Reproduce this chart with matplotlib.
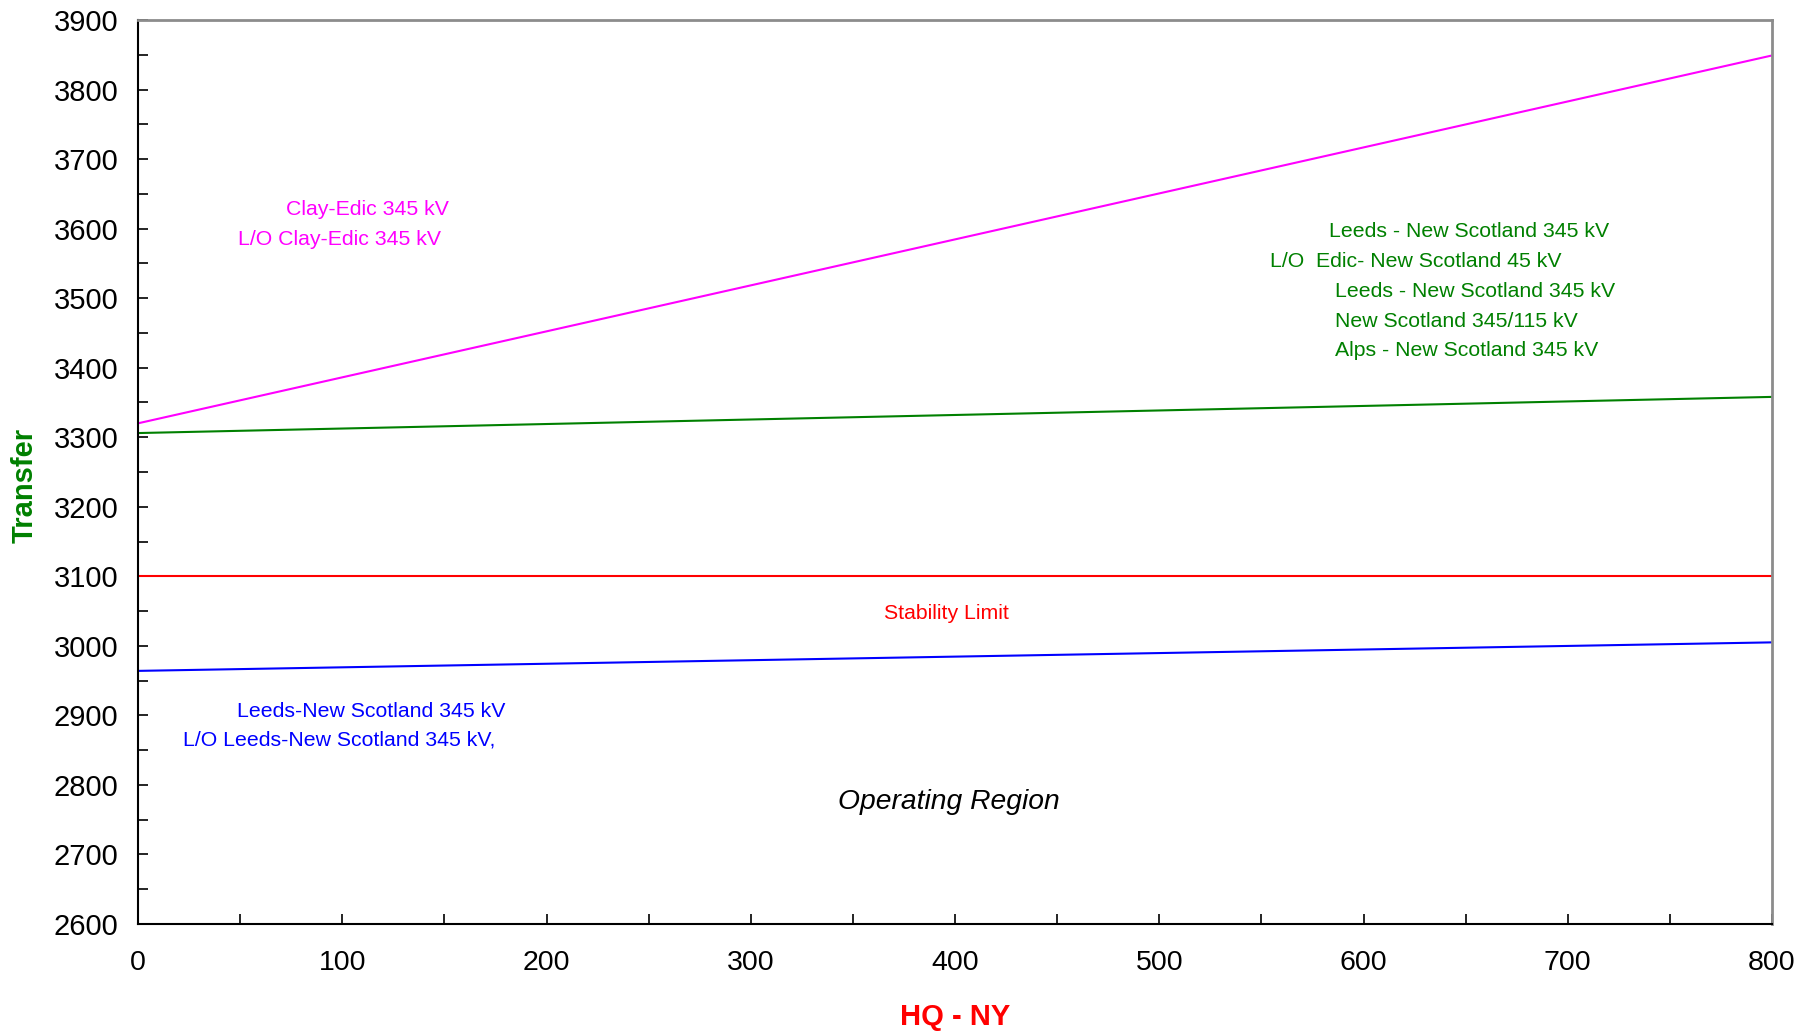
import matplotlib
matplotlib.use("Agg")
import matplotlib.pyplot as plt
from matplotlib.ticker import MultipleLocator

plt.rcParams['font.family'] = ['Liberation Sans', 'DejaVu Sans']

# Transfer limits versus HQ - NY flow (linear, endpoints at 0 and 800 MW)
hq_ny = [0, 800]
clay_edic = [3320, 3849]
leeds_ns = [3306, 3358]
stability = [3100, 3100]
leeds_ns_lo = [2964, 3005]

fig = plt.figure(figsize=(18.18, 10.34), dpi=100)
ax = fig.add_axes([138 / 1818, 1 - 924 / 1034, (1772 - 138) / 1818, (924 - 20) / 1034])

ax.plot(hq_ny, clay_edic, color='#FF00FF', lw=1.5)
ax.plot(hq_ny, leeds_ns, color='#008000', lw=1.5)
ax.plot(hq_ny, stability, color='#FF0000', lw=1.5)
ax.plot(hq_ny, leeds_ns_lo, color='#0000FF', lw=1.5)

ax.set_xlim(0, 800)
ax.set_ylim(2600, 3900)
ax.xaxis.set_major_locator(MultipleLocator(100))
ax.xaxis.set_minor_locator(MultipleLocator(50))
ax.yaxis.set_major_locator(MultipleLocator(100))
ax.yaxis.set_minor_locator(MultipleLocator(50))
ax.tick_params(axis='both', which='both', direction='in', length=7, width=1.2, colors='black')
ax.tick_params(axis='y', which='major', labelsize=21, pad=14)
ax.tick_params(axis='x', which='major', labelsize=20.5, pad=19)

for side in ('left', 'bottom'):
    ax.spines[side].set_color('black')
    ax.spines[side].set_linewidth(1.5)
for side in ('top', 'right'):
    ax.spines[side].set_color('#8c8c8c')
    ax.spines[side].set_linewidth(2.0)

ax.set_xlabel('HQ - NY', color='#FF0000', fontsize=21, fontweight='bold')
ax.xaxis.set_label_coords(0.5, -(1017 - 924) / 904, transform=ax.transAxes)
ax.xaxis.label.set_va('center')
ax.set_ylabel('Transfer', color='#008000', fontsize=21, fontweight='bold')
ax.yaxis.set_label_coords(-(138 - 25) / 1634, (924 - 485) / 904, transform=ax.transAxes)
ax.yaxis.label.set_va('center')

lab = dict(fontsize=15.3, va='center', ha='left')
ax.text(72.5, 3627, 'Clay-Edic 345 kV', color='#FF00FF', **lab)
ax.text(49, 3584, 'L/O Clay-Edic 345 kV', color='#FF00FF', **lab)

ax.text(583, 3596, 'Leeds - New Scotland 345 kV', color='#008000', **lab)
ax.text(554, 3552, 'L/O  Edic- New Scotland 45 kV', color='#008000', **lab)
ax.text(586, 3510, 'Leeds - New Scotland 345 kV', color='#008000', **lab)
ax.text(586, 3467, 'New Scotland 345/115 kV', color='#008000', **lab)
ax.text(586, 3425, 'Alps - New Scotland 345 kV', color='#008000', **lab)

ax.text(396, 3047, 'Stability Limit', color='#FF0000', fontsize=15.3, ha='center', va='center')

ax.text(48.6, 2906, 'Leeds-New Scotland 345 kV', color='#0000FF', **lab)
ax.text(22, 2864, 'L/O Leeds-New Scotland 345 kV,', color='#0000FF', **lab)

ax.text(397, 2775, 'Operating Region', color='black', fontsize=20.3, style='italic',
        ha='center', va='center')

fig.savefig('out.png', dpi=100)
